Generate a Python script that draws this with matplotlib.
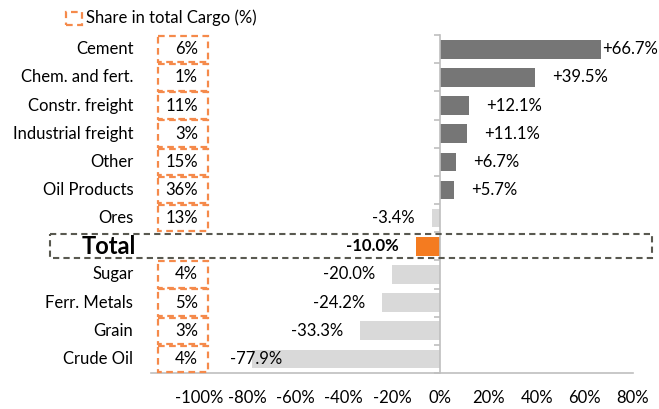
import numpy as np
import matplotlib.pyplot as plt
from matplotlib.patches import Rectangle

plt.rcParams['font.family'] = ['Lato', 'DejaVu Sans']

# data
categories = ['Cement', 'Chem. and fert.', 'Constr. freight', 'Industrial freight',
              'Other', 'Oil Products', 'Ores', 'Total', 'Sugar', 'Ferr. Metals',
              'Grain', 'Crude Oil']
change = [66.7, 39.5, 12.1, 11.1, 6.7, 5.7, -3.4, -10.0, -20.0, -24.2, -33.3, -77.9]
share = [6, 1, 11, 3, 15, 36, 13, None, 4, 5, 3, 4]
xticks = [-100, -80, -60, -40, -20, 0, 20, 40, 60, 80]

dark = '#767676'
light = '#d9d9d9'
orange = '#f47b20'
box_orange = '#f58a4b'
total_idx = categories.index('Total')
fs = 12

fig = plt.figure(figsize=(6.59, 4.09), dpi=100)
ax = fig.add_axes([0.229, 0.088, 0.7316, 0.826])

y = np.arange(len(categories))
colors = []
for i, v in enumerate(change):
    if i == total_idx:
        colors.append(orange)
    elif v > 0:
        colors.append(dark)
    else:
        colors.append(light)
ax.barh(y, change, height=0.66, color=colors, zorder=2)

# value labels
for i, v in enumerate(change):
    lab = ('+' if v > 0 else '') + '%.1f%%' % v
    weight = 'bold' if i == total_idx else 'normal'
    if i == 0:
        ax.text(v + 0.5, i, lab, ha='left', va='center', fontsize=fs)
    elif v > 0:
        ax.text(v + 7, i, lab, ha='left', va='center', fontsize=fs)
    elif v < -70:
        ax.text(v + 12.4, i, lab, ha='right', va='center', fontsize=fs)
    else:
        ax.text(v - 7, i, lab, ha='right', va='center', fontsize=fs, weight=weight)

# category labels
for i, c in enumerate(categories):
    if i == total_idx:
        ax.text(-126, i, c, ha='right', va='center', fontsize=17, weight='bold', clip_on=False)
    else:
        ax.text(-127.3, i, c, ha='right', va='center', fontsize=fs, clip_on=False)

# share boxes
for i, s in enumerate(share):
    if s is None:
        continue
    ax.add_patch(Rectangle((-117, i - 0.47), 20.5, 0.94, fill=False, edgecolor=box_orange,
                           linestyle=(0, (3, 2)), lw=1.6, clip_on=False, zorder=3))
    ax.text(-100.5, i, '%d%%' % s, ha='right', va='center', fontsize=fs, clip_on=False)

# total row highlight
ax.add_patch(Rectangle((-161.7, total_idx - 0.43), 249.6, 0.86, fill=False, edgecolor='#595950',
                       linestyle=(0, (3, 2)), lw=1.5, clip_on=False, zorder=4))

ax.set_xlim(-120, 80)
ax.set_ylim(len(categories) - 0.5, -0.5)
ax.set_xticks(xticks)
ax.set_xticklabels(['%d%%' % t for t in xticks], fontsize=fs)
ax.tick_params(axis='x', length=0, pad=12)
ax.set_yticks(np.arange(len(categories) + 1) - 0.5)
ax.set_yticklabels([])
ax.tick_params(axis='y', length=4, width=1.2, color='#bfbfbf', direction='out')
for sp in ['top', 'right']:
    ax.spines[sp].set_visible(False)
ax.spines['left'].set_position(('data', 0))
ax.spines['left'].set_color('#bfbfbf')
ax.spines['bottom'].set_color('#bfbfbf')
ax.spines['bottom'].set_linewidth(1.2)
ax.spines['left'].set_linewidth(1.2)

# legend
fig.patches.append(Rectangle((66 / 659, 1 - 25 / 409), 16 / 659, 13 / 409, transform=fig.transFigure,
                             fill=False, edgecolor=box_orange, linestyle=(0, (3, 2)), lw=1.6))
fig.text(86 / 659, 1 - 18 / 409, 'Share in total Cargo (%)', ha='left', va='center', fontsize=fs)

fig.savefig('out.png', dpi=100)
